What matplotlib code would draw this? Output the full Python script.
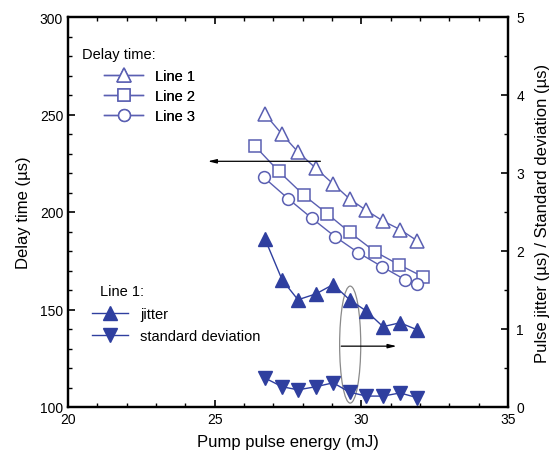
import matplotlib
matplotlib.use("Agg")
import matplotlib.pyplot as plt
from matplotlib.patches import Ellipse
from matplotlib.ticker import MultipleLocator

plt.rcParams['font.family'] = ['Liberation Sans', 'DejaVu Sans']

# ---- data ----
x_line1 = [26.72, 27.30, 27.84, 28.45, 29.04, 29.60, 30.17, 30.74, 31.32, 31.90]
delay_line1 = [250.1, 239.8, 230.8, 222.4, 214.4, 206.7, 200.8, 195.4, 191.0, 185.3]

x_line2 = [26.38, 27.19, 28.05, 28.83, 29.61, 30.46, 31.28, 32.10]
delay_line2 = [233.7, 220.8, 208.5, 199.2, 189.5, 179.7, 173.0, 166.8]

x_line3 = [26.68, 27.50, 28.32, 29.10, 29.89, 30.70, 31.49, 31.90]
delay_line3 = [217.7, 206.9, 196.7, 187.4, 179.2, 172.0, 165.3, 163.2]

jitter_line1 = [2.15, 1.63, 1.375, 1.45, 1.57, 1.375, 1.23, 1.03, 1.08, 0.99]
stdev_line1 = [0.37, 0.26, 0.22, 0.26, 0.31, 0.19, 0.14, 0.14, 0.18, 0.12]

xlabel = "Pump pulse energy (mJ)"
ylabel_left = "Delay time (\u00b5s)"
ylabel_right = "Pulse jitter (\u00b5s) / Standard deviation (\u00b5s)"

open_col = '#5a5fb2'
fill_col = '#2f3f9f'

fig = plt.figure(figsize=(5.54, 4.56), dpi=100)
ax = fig.add_axes([68/554, 1-408/456, (508-68)/554, (408-18)/456])
ax2 = ax.twinx()

l1, = ax.plot(x_line1, delay_line1, color=open_col, lw=1.0, marker='^', ms=9.5,
              mfc='white', mec=open_col, mew=1.1)
l2, = ax.plot(x_line2, delay_line2, color=open_col, lw=1.0, marker='s', ms=8.5,
              mfc='white', mec=open_col, mew=1.1)
l3, = ax.plot(x_line3, delay_line3, color=open_col, lw=1.0, marker='o', ms=8.5,
              mfc='white', mec=open_col, mew=1.1)

j1, = ax2.plot(x_line1, jitter_line1, color=fill_col, lw=1.0, marker='^', ms=9.5,
               mfc=fill_col, mec=fill_col)
s1, = ax2.plot(x_line1, stdev_line1, color=fill_col, lw=1.0, marker='v', ms=9.5,
               mfc=fill_col, mec=fill_col)

ax.set_xlim(20, 35)
ax.set_ylim(100, 300)
ax2.set_ylim(0, 5)

ax.xaxis.set_major_locator(MultipleLocator(5))
ax.xaxis.set_minor_locator(MultipleLocator(1))
ax.yaxis.set_major_locator(MultipleLocator(50))
ax.yaxis.set_minor_locator(MultipleLocator(10))
ax2.yaxis.set_major_locator(MultipleLocator(1))
ax2.yaxis.set_minor_locator(MultipleLocator(0.5))

ax.tick_params(axis='x', which='both', direction='in', top=True, labelsize=10)
ax.tick_params(axis='y', which='both', direction='in', labelsize=10)
ax2.tick_params(axis='y', which='both', direction='in', labelsize=10, pad=6)
for a in (ax, ax2):
    a.tick_params(which='major', length=5, width=1.2)
    a.tick_params(which='minor', length=3, width=1.0)
    for s in a.spines.values():
        s.set_linewidth(1.6)

ax.set_xlabel(xlabel, fontsize=12, labelpad=6)
ax.set_ylabel(ylabel_left, fontsize=12, labelpad=6)
ax2.set_ylabel(ylabel_right, fontsize=12, labelpad=8)

# annotations
ax.annotate('', xy=(24.67, 226), xytext=(28.7, 226),
            arrowprops=dict(arrowstyle='-|>,head_length=0.5,head_width=0.12',
                            color='black', lw=0.9))
ax2.annotate('', xy=(31.3, 0.78), xytext=(29.22, 0.78),
             arrowprops=dict(arrowstyle='-|>,head_length=0.5,head_width=0.12',
                             color='black', lw=0.9))
ax2.add_patch(Ellipse((29.62, 0.8), 0.72, 1.5, fill=False, ec='#8a8a8a', lw=0.9))

# legends
fig.text(82/554, 1-55/456, "Delay time:", fontsize=10.5, va='center', ha='left')
leg1 = ax.legend([l1, l2, l3], ["Line 1", "Line 2", "Line 3"],
                 loc='upper left', bbox_to_anchor=(104/554, 1-70/456),
                 bbox_transform=fig.transFigure, frameon=False, fontsize=10.5,
                 handlelength=2.7, handletextpad=0.8, labelspacing=0.4,
                 borderpad=0, borderaxespad=0)
ax.add_artist(leg1)

fig.text(100/554, 1-292/456, "Line 1:", fontsize=10.5, va='center', ha='left')
leg2 = ax2.legend([j1, s1], ["jitter", "standard deviation"],
                  loc='upper left', bbox_to_anchor=(92/554, 1-308/456),
                  bbox_transform=fig.transFigure, frameon=False, fontsize=10.5,
                  handlelength=2.5, handletextpad=0.8, labelspacing=0.55,
                  borderpad=0, borderaxespad=0)

fig.savefig("out.png", dpi=100)
